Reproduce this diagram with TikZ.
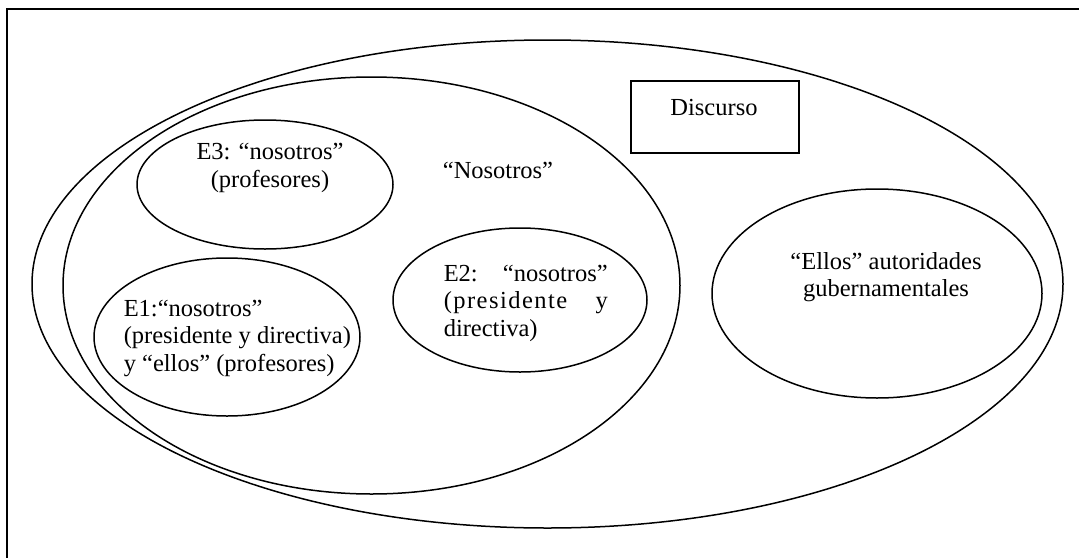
\documentclass[tikz,border=0pt]{standalone}
\usepackage{fontspec}
\setmainfont{Liberation Serif}
\usepackage{tikz}
\usetikzlibrary{shapes.geometric}

\begin{document}
\begin{tikzpicture}[x=1pt,y=-1pt,line width=1.5pt]
                \tikzset{oval/.style={ellipse, draw, inner sep=0pt},
                         box/.style={rectangle, draw, inner sep=0pt},
                         txt/.style={inner sep=0pt, font=\fontsize{24.5}{27.5}\selectfont}}

                \useasboundingbox (0,0) rectangle (1079,557);
                \clip (0,0) rectangle (1079,557);
                \draw[line width=1.8pt] (7,9) rectangle (1100,580);

                \node[oval, minimum width=1031pt, minimum height=488pt] (D) at (547.5,284) {};
                \node[oval, minimum width=617pt, minimum height=417pt] (N) at (371.5,285.5) {};
                \node[oval, minimum width=256pt, minimum height=129pt] (E3) at (265,184.5) {};
                \node[oval, minimum width=266pt, minimum height=158pt] (E1) at (227,337) {};
                \node[oval, minimum width=254pt, minimum height=144pt] (E2) at (520,300) {};
                \node[oval, minimum width=330pt, minimum height=209pt] (G) at (877,293.5) {};
                \node[box, minimum width=168pt, minimum height=72pt] (B) at (715,117) {};

                \node[txt, anchor=base] (Bt) at (714,115) {Discurso};
                \node[txt, anchor=base] (Nt) at (498,178) {“Nosotros”};
                \node[txt, align=center] (E3t) at (270,168) {E3: “nosotros”\\(profesores)};
                \node[txt, align=left, anchor=west] (E1t) at (123,338)
                    {E1:“nosotros”\\(presidente y directiva)\\y “ellos” (profesores)};
                \node[txt, align=left, anchor=west] (E2t) at (443,303)
                    {\makebox[164pt][s]{E2: “nosotros”}\\
                     \makebox[164pt][s]{\addfontfeature{LetterSpace=6}(presidente y}\\
                     directiva)};
                \node[txt, align=center] (Gt) at (886,277) {“Ellos” autoridades\\gubernamentales};
            \end{tikzpicture}
\end{document}
